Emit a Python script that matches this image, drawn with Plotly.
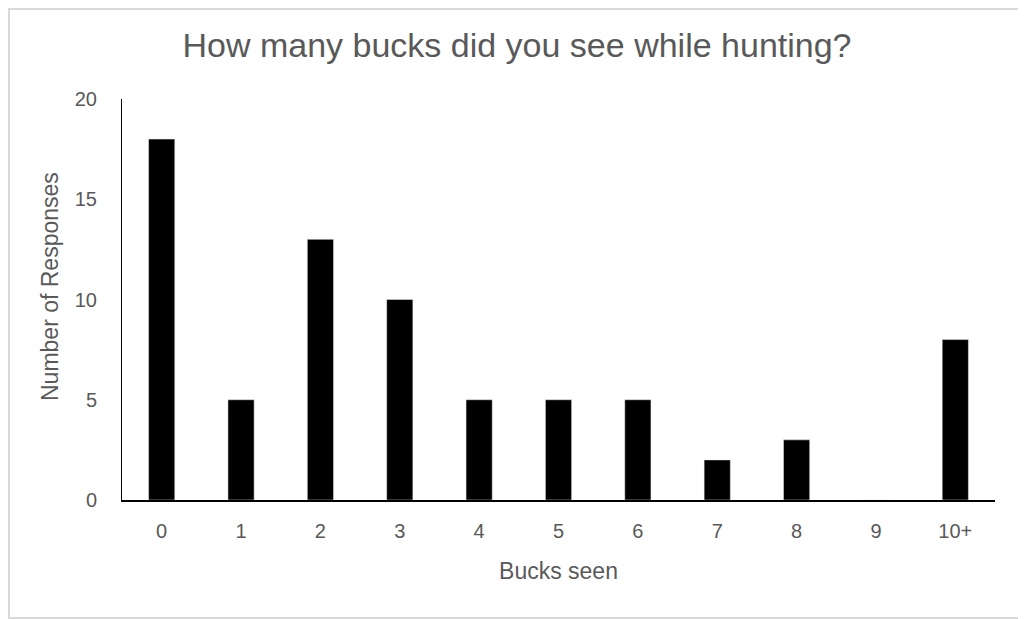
import plotly.graph_objects as go

categories = ["0", "1", "2", "3", "4", "5", "6", "7", "8", "9", "10+"]
responses = [18, 5, 13, 10, 5, 5, 5, 2, 3, 0, 8]
y_ticks = [0, 5, 10, 15, 20]

# page body has an 8px offset; size the figure so it fits the window
OFF = 8
W, H = 1026 - OFF, 619 - OFF
L, T = 122 - OFF, 99 - OFF
R, B = 31, 119
pw, ph = W - L - R, H - T - B

fig = go.Figure(go.Bar(x=categories, y=responses, marker_color="black", width=0.33))

gray = "#595959"
font = "Liberation Sans, Arial, sans-serif"

fig.update_layout(
    width=W, height=H,
    margin=dict(l=L, r=R, t=T, b=B),
    plot_bgcolor="white", paper_bgcolor="white",
    showlegend=False,
    font=dict(family=font, color=gray, size=20),
    title=dict(text="How many bucks did you see while hunting?", x=0.5, xref="container",
               y=1 - (45 - OFF) / H, yref="container", yanchor="middle", xanchor="center",
               font=dict(size=34, color=gray, family=font)),
    xaxis=dict(showline=True, linecolor="black", linewidth=1.5, showgrid=False, ticks="",
               tickfont=dict(size=20, color=gray), ticklabelstandoff=12,
               title=dict(text="Bucks seen", font=dict(size=23, color=gray), standoff=22)),
    yaxis=dict(showline=True, linecolor="black", linewidth=1, showgrid=False, ticks="",
               range=[0, 20], tickvals=y_ticks, zeroline=False,
               tickfont=dict(size=20, color=gray), ticklabelstandoff=20),
    annotations=[dict(text="Number of Responses", textangle=-90, showarrow=False,
                      xref="paper", yref="paper",
                      x=(50 - OFF - L) / pw, y=1 - (287 - OFF - T) / ph,
                      xanchor="center", yanchor="middle",
                      font=dict(size=23, color=gray, family=font))],
    shapes=[dict(type="rect", xref="paper", yref="paper",
                 x0=(1 - L) / pw, x1=(W - 1 - L) / pw,
                 y0=-(B - 1) / ph, y1=1 + (T - 1) / ph,
                 line=dict(color="#d9d9d9", width=2), layer="below")],
)

fig.write_html("out.html")
